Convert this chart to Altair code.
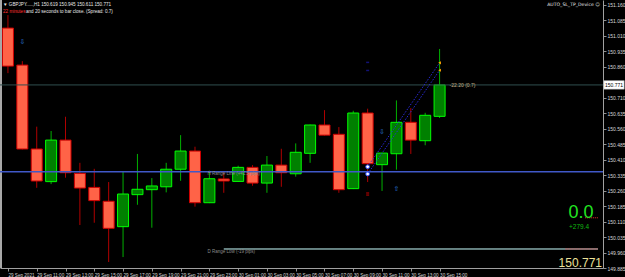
import json
import altair as alt
import pandas as pd

# ---------------- data ----------------
times = ["29 Sep 09:00", "29 Sep 10:00", "29 Sep 11:00", "29 Sep 12:00", "29 Sep 13:00",
         "29 Sep 14:00", "29 Sep 15:00", "29 Sep 16:00", "29 Sep 17:00", "29 Sep 18:00",
         "29 Sep 19:00", "29 Sep 20:00", "29 Sep 21:00", "29 Sep 22:00", "29 Sep 23:00",
         "30 Sep 00:00", "30 Sep 01:00", "30 Sep 02:00", "30 Sep 03:00", "30 Sep 04:00",
         "30 Sep 05:00", "30 Sep 06:00", "30 Sep 07:00", "30 Sep 08:00", "30 Sep 09:00",
         "30 Sep 10:00", "30 Sep 11:00", "30 Sep 12:00", "30 Sep 13:00", "30 Sep 14:00",
         "30 Sep 15:00"]
opens = [151.046, 150.867, 150.461, 150.303, 150.504, 150.343, 150.275, 150.208, 150.085, 150.240,
         150.264, 150.278, 150.363, 150.451, 150.201, 150.316, 150.304, 150.372, 150.296, 150.383,
         150.341, 150.440, 150.577, 150.532, 150.269, 150.635, 150.385, 150.438, 150.590, 150.501,
         150.619]
highs = [151.109, 150.886, 150.569, 150.548, 150.617, 150.394, 150.365, 150.301, 150.351, 150.437,
         150.320, 150.394, 150.528, 150.472, 150.356, 150.351, 150.380, 150.383, 150.427, 150.462,
         150.488, 150.579, 150.649, 150.567, 150.646, 150.656, 150.443, 150.696, 150.659, 150.636,
         150.945]
lows = [150.828, 150.459, 150.273, 150.291, 150.322, 150.093, 150.104, 149.914, 149.938, 150.191,
        150.080, 150.251, 150.307, 150.182, 150.199, 150.249, 150.302, 150.283, 150.249, 150.278,
        150.327, 150.394, 150.526, 150.249, 150.267, 150.301, 150.258, 150.361, 150.437, 150.479,
        150.611]
closes = [150.862, 150.461, 150.306, 150.504, 150.346, 150.272, 150.211, 150.077, 150.243, 150.266,
          150.282, 150.363, 150.451, 150.201, 150.317, 150.306, 150.372, 150.296, 150.383, 150.346,
          150.445, 150.577, 150.528, 150.264, 150.635, 150.390, 150.441, 150.590, 150.504, 150.624,
          150.771]

xtick_idx = list(range(0, 31, 2))
xtick_labels = ["29 Sep 2021", "29 Sep 11:00", "29 Sep 13:00", "29 Sep 15:00", "29 Sep 17:00",
                "29 Sep 19:00", "29 Sep 21:00", "29 Sep 23:00", "30 Sep 01:00", "30 Sep 03:00",
                "30 Sep 05:00", "30 Sep 07:00", "30 Sep 09:00", "30 Sep 11:00", "30 Sep 13:00",
                "30 Sep 15:00"]
ytick_values = [149.885, 149.960, 150.035, 150.110, 150.185, 150.260, 150.335, 150.410, 150.485,
                150.560, 150.635, 150.710, 150.860, 150.935, 151.010, 151.085, 151.160]

x_domain = [-0.205, 41.01]
y_domain = [149.885, 151.182]

bid_price = 150.771
range_line = 150.351
range_low = 149.977
range_low_start = 15  # 30 Sep 00:00

# signal objects
arrow_idx = [1, 26, 27]
arrow_price = [150.978, 150.544, 150.267]
arrow_text = ["⇩", "⇩", "⇧"]
circle_idx = [25, 25]
circle_price = [150.375, 150.340]
target_idx = [30, 30]
target_price = [150.878, 150.842]
dash_idx = [25, 25, 25, 25]
dash_price = [150.880, 150.841, 150.248, 150.238]
dash_kind = ["blue", "blue", "red", "red"]
red_dot_start = [40.12, 38.76]
red_dot_price = [150.128, 149.977]

# ---------------- build ----------------
df = pd.DataFrame({"i": list(range(len(times))), "time": times, "open": opens,
                   "high": highs, "low": lows, "close": closes})

label_font = "Liberation Sans"
x_axis = alt.Axis(values=xtick_idx, labelExpr=f"{json.dumps(xtick_labels)}[round(datum.value/2)]",
                  labelAlign="left", labelBaseline="top", labelFontSize=4.6, labelColor="#d8d8d8",
                  labelPadding=1, labelOverlap=False, labelFlush=False, tickSize=3,
                  tickColor="#909090", domainColor="#a0a0a0", grid=False, title=None,
                  labelFont=label_font)
y_axis = alt.Axis(values=ytick_values, format=".3f", orient="right", labelFontSize=5,
                  labelColor="#d8d8d8", labelPadding=1, labelOverlap=False, labelFlush=False,
                  tickSize=3, tickColor="#909090", domainColor="#a0a0a0", grid=False, title=None,
                  labelFont=label_font)
xs = alt.Scale(domain=x_domain, nice=False, zero=False)
ys = alt.Scale(domain=y_domain, nice=False, zero=False)


def X(f):
    return alt.X(f"{f}:Q", scale=xs, axis=x_axis)


def Y(f):
    return alt.Y(f"{f}:Q", scale=ys, axis=y_axis)


up = "datum.close >= datum.open"

wicks = alt.Chart(df).mark_rule(strokeWidth=1).encode(
    x=X("i"), y=Y("low"), y2="high",
    color=alt.condition(up, alt.value("#00b000"), alt.value("#b00000")))

bodies = alt.Chart(df).mark_bar(size=11, strokeWidth=1).encode(
    x=X("i"), y=Y("open"), y2="close",
    fill=alt.condition(up, alt.value("#008000"), alt.value("#ff6347")),
    stroke=alt.condition(up, alt.value("#00ff00"), alt.value("#d00000")))

left_border = alt.Chart(pd.DataFrame({"a": [0]})).mark_rule(
    color="#a8a8a8", strokeWidth=2).encode(x=alt.value(1))

bid_line = alt.Chart(pd.DataFrame({"p": [bid_price]})).mark_rule(
    color="#2f4f4f", strokeWidth=1).encode(y=Y("p"))
blue_line = alt.Chart(pd.DataFrame({"p": [range_line]})).mark_rule(
    color="#4058c8", strokeWidth=1.5).encode(y=Y("p"))
cyan_line = alt.Chart(pd.DataFrame({"p": [range_low], "s": [range_low_start], "e": [x_domain[1]]})
                      ).mark_rule(color="#c8ffff", strokeWidth=1).encode(
    x=X("s"), x2="e", y=Y("p"))

red_dots = alt.Chart(pd.DataFrame({"p": red_dot_price, "s": red_dot_start,
                                   "e": [x_domain[1]] * 2})).mark_rule(
    color="#ff3030", strokeWidth=1, strokeDash=[1, 1]).encode(x=X("s"), x2="e", y=Y("p"))

line_df = pd.DataFrame({"i": circle_idx + target_idx, "p": circle_price + target_price,
                        "g": [0, 1, 0, 1]})
dotted = alt.Chart(line_df).mark_line(color="#2a2ad8", strokeWidth=1, strokeDash=[1.5, 1.5]).encode(
    x=X("i"), y=Y("p"), detail="g:N")

circles = alt.Chart(pd.DataFrame({"i": circle_idx, "p": circle_price})).mark_point(
    shape="circle", size=14, filled=True, fill="#ffffff", stroke="#3050ff", strokeWidth=1,
    opacity=1).encode(x=X("i"), y=Y("p"))

targets = alt.Chart(pd.DataFrame({"i": target_idx, "p": target_price})).mark_point(
    shape="triangle-left", size=10, filled=True, color="#ffa500", opacity=1).encode(
    x=X("i"), y=Y("p"))

dashes = alt.Chart(pd.DataFrame({"i": dash_idx, "p": dash_price, "k": dash_kind})).mark_tick(
    orient="horizontal", size=3, thickness=1.5).encode(
    x=X("i"), y=Y("p"),
    color=alt.Color("k:N", scale=alt.Scale(domain=["blue", "red"], range=["#1a1aa8", "#c00000"]),
                    legend=None))

arrows = alt.Chart(pd.DataFrame({"i": arrow_idx, "p": arrow_price, "t": arrow_text})).mark_text(
    font="DejaVu Sans", fontSize=7, color="#2a78d8", baseline="middle").encode(
    x=X("i"), y=Y("p"), text="t:N")

one = pd.DataFrame({"a": [0]})

spread_lbl = alt.Chart(pd.DataFrame({"i": [30], "p": [bid_price]})).mark_text(
    text="-22.20 (0.7)", align="left", baseline="middle", dx=10, fontSize=5,
    font=label_font, color="#c4b488").encode(x=X("i"), y=Y("p"))

range_lbl = alt.Chart(pd.DataFrame({"i": [14], "p": [range_line]})).mark_text(
    text="H Range Line (+41.5 pips)", align="left", baseline="middle", dx=-2, dy=2,
    fontSize=4.5, font=label_font, color="#8c8c8c").encode(x=X("i"), y=Y("p"))
low_lbl = alt.Chart(pd.DataFrame({"i": [14], "p": [range_low]})).mark_text(
    text="D Range Low (-19 pips)", align="left", baseline="middle", dx=-2, dy=3,
    fontSize=4.5, font=label_font, color="#8c8c8c").encode(x=X("i"), y=Y("p"))

price_box = alt.Chart(pd.DataFrame({"p": [bid_price]})).mark_point(
    shape="M-1,-0.42L1,-0.42L1,0.42L-1,0.42Z", size=420, filled=True, fill="#ffffff",
    stroke="#a0a0a0", strokeWidth=0.5, opacity=1, clip=False).encode(
    x=alt.value(614), y=Y("p"))
price_box_txt = alt.Chart(pd.DataFrame({"p": [bid_price], "t": ["150.771"]})).mark_text(
    fontSize=5, font=label_font, color="#000000", baseline="middle", clip=False).encode(
    x=alt.value(614), y=Y("p"), text="t:N")

head1 = alt.Chart(one).mark_text(
    text="▼  GBPJPY.....,H1  150.619 150.945 150.611 150.771", align="left", baseline="middle",
    fontSize=4.6, font=label_font, color="#e8e8e8").encode(x=alt.value(3), y=alt.value(5))
head2a = alt.Chart(one).mark_text(
    text="22 minutes", align="left", baseline="middle", fontSize=4.6, font=label_font,
    color="#ff3030").encode(x=alt.value(3), y=alt.value(12))
head2b = alt.Chart(one).mark_text(
    text="and 20 seconds to bar close. (Spread: 0.7)", align="left", baseline="middle",
    fontSize=4.6, font=label_font, color="#e8e8e8").encode(x=alt.value(26), y=alt.value(12))
ea_name = alt.Chart(one).mark_text(
    text="AUTO_SL_TP_Device ☺", align="right", baseline="middle", fontSize=4.6,
    font="DejaVu Sans", color="#e8e8e8").encode(x=alt.value(600), y=alt.value(5))

big_zero = alt.Chart(one).mark_text(
    text="0.0", align="center", baseline="middle", fontSize=18, font=label_font,
    color="#22e622").encode(x=alt.value(581), y=alt.value(213))
profit = alt.Chart(one).mark_text(
    text="+279.4", align="center", baseline="middle", fontSize=6.5, font=label_font,
    color="#10b810").encode(x=alt.value(579), y=alt.value(227))
big_price = alt.Chart(one).mark_text(
    text="150.771", align="right", baseline="alphabetic", fontSize=12, font=label_font,
    color="#ece29a").encode(x=alt.value(602), y=alt.value(267))

chart = alt.layer(
    wicks, bodies, left_border, bid_line, cyan_line, blue_line, red_dots, dotted, circles,
    targets, dashes, arrows, spread_lbl, range_lbl, low_lbl, price_box, price_box_txt,
    head1, head2a, head2b, ea_name, big_zero, profit, big_price
).properties(
    width=603, height=268,
    autosize=alt.AutoSizeParams(type="none"),
    padding={"left": 0, "top": 0, "right": 22, "bottom": 9},
    background="#000000",
).configure_view(stroke=None)

chart.save("out.html", embed_options={"renderer": "svg", "actions": False})
